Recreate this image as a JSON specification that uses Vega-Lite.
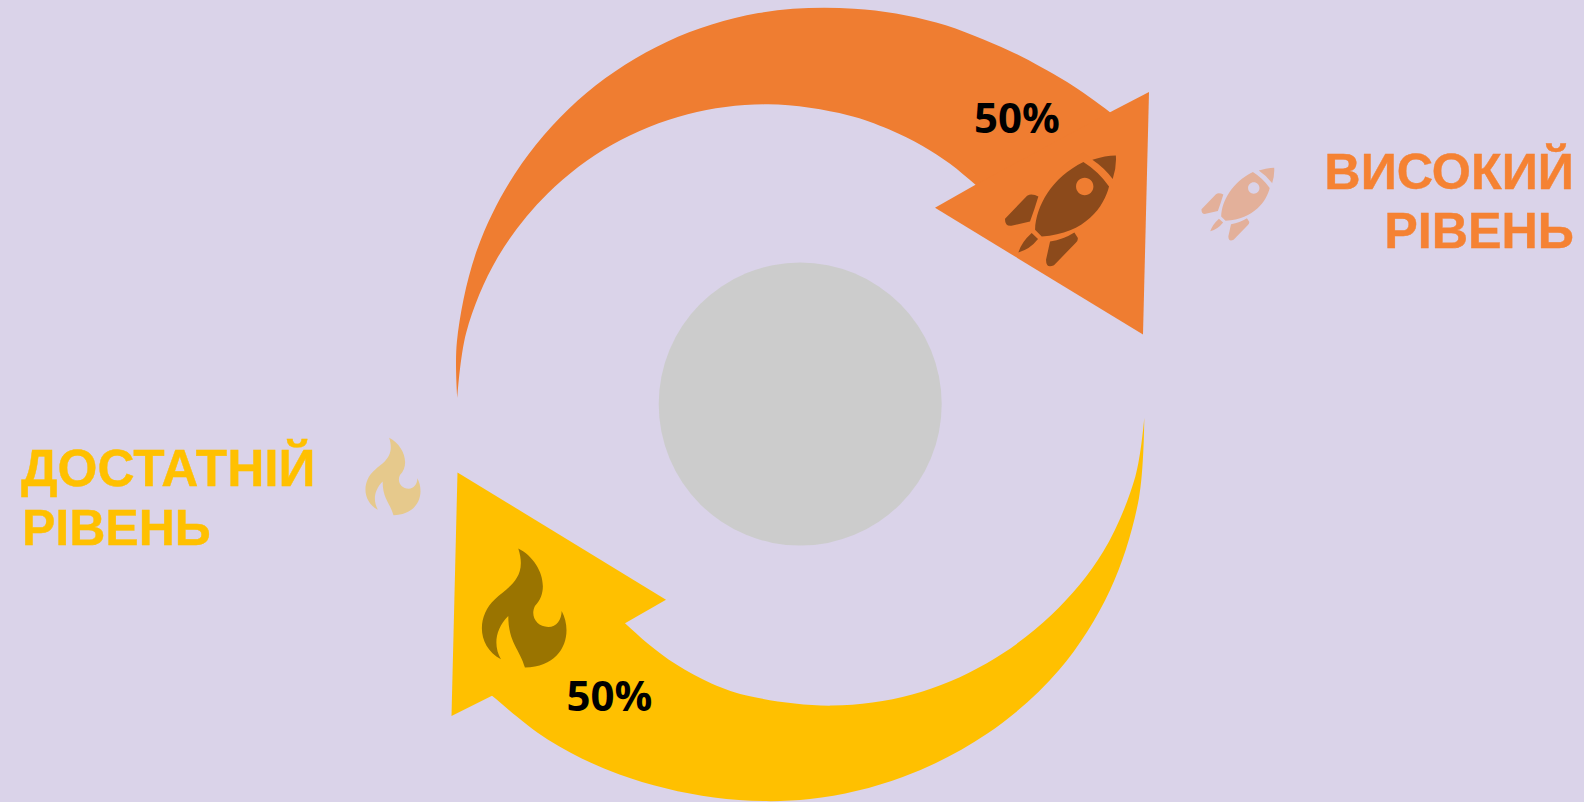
{"$schema":"https://vega.github.io/schema/vega-lite/v6.json","width":1584,"height":802,"autosize":{"type":"fit","contains":"padding"},"padding":0,"background":"#DAD3E9","config":{"view":{"stroke":null}},
"datasets":{"bands":[
{"level":"high","i":1,"x":457.3,"y":398.3},{"level":"high","i":2,"x":456.9,"y":342.1},{"level":"high","i":3,"x":477.6,"y":248.6},{"level":"high","i":4,"x":521.8,"y":163.8},{"level":"high","i":5,"x":586.4,"y":93.2},{"level":"high","i":6,"x":667.1,"y":41.8},{"level":"high","i":7,"x":758.4,"y":13.1},{"level":"high","i":8,"x":854,"y":8.7},{"level":"high","i":9,"x":936.2,"y":22.5},{"level":"high","i":10,"x":1008.8,"y":50.5},{"level":"high","i":11,"x":1040,"y":66.5},{"level":"high","i":12,"x":1067.5,"y":82.4},{"level":"high","i":13,"x":1110,"y":112.3},{"level":"high","i":14,"x":1135,"y":133},{"level":"high","i":15,"x":1070,"y":170},{"level":"high","i":16,"x":1000,"y":205},{"level":"high","i":17,"x":975.5,"y":185},{"level":"high","i":18,"x":949.7,"y":163.8},{"level":"high","i":19,"x":922.6,"y":146.2},{"level":"high","i":20,"x":888.8,"y":129.4},{"level":"high","i":21,"x":848,"y":115.3},{"level":"high","i":22,"x":768,"y":104.5},{"level":"high","i":23,"x":687.7,"y":114.4},{"level":"high","i":24,"x":612.5,"y":144.7},{"level":"high","i":25,"x":547.7,"y":193.7},{"level":"high","i":26,"x":497.6,"y":257.9},{"level":"high","i":27,"x":466.2,"y":333.1},{"level":"high","i":28,"x":457.3,"y":398.3},
{"level":"mid","i":1,"x":1144.3,"y":418.3},{"level":"mid","i":2,"x":1138.9,"y":499.1},{"level":"mid","i":3,"x":1110.2,"y":590.4},{"level":"mid","i":4,"x":1058.8,"y":671.1},{"level":"mid","i":5,"x":987.4,"y":734.5},{"level":"mid","i":6,"x":902.7,"y":778},{"level":"mid","i":7,"x":809.9,"y":800.1},{"level":"mid","i":8,"x":714,"y":798.4},{"level":"mid","i":9,"x":619.5,"y":775.4},{"level":"mid","i":10,"x":548.1,"y":740.6},{"level":"mid","i":11,"x":492,"y":696.7},{"level":"mid","i":12,"x":470,"y":678},{"level":"mid","i":13,"x":530,"y":640},{"level":"mid","i":14,"x":600,"y":602},{"level":"mid","i":15,"x":625,"y":624},{"level":"mid","i":16,"x":648,"y":644.5},{"level":"mid","i":17,"x":676,"y":665.2},{"level":"mid","i":18,"x":712,"y":684.5},{"level":"mid","i":19,"x":751.2,"y":697.4},{"level":"mid","i":20,"x":832,"y":706.5},{"level":"mid","i":21,"x":912.2,"y":695.4},{"level":"mid","i":22,"x":986.8,"y":664},{"level":"mid","i":23,"x":1051.6,"y":615.6},{"level":"mid","i":24,"x":1103.1,"y":552.5},{"level":"mid","i":25,"x":1135.3,"y":477.3},{"level":"mid","i":26,"x":1144.3,"y":418.3}
],"heads":[
{"level":"high","i":1,"x":1110,"y":112.3},{"level":"high","i":2,"x":1149,"y":92},{"level":"high","i":3,"x":1143,"y":335},{"level":"high","i":4,"x":935,"y":208},{"level":"high","i":5,"x":975.5,"y":185},
{"level":"mid","i":1,"x":492,"y":696.7},{"level":"mid","i":2,"x":451.5,"y":717},{"level":"mid","i":3,"x":457.5,"y":473},{"level":"mid","i":4,"x":666,"y":600.5},{"level":"mid","i":5,"x":625,"y":624}
]},
"encoding":{"x":{"field":"x","type":"quantitative","axis":null,"scale":{"domain":[0,1584],"nice":false,"zero":false}},"y":{"field":"y","type":"quantitative","axis":null,"scale":{"domain":[0,802],"nice":false,"zero":false,"reverse":true}}},
"layer":[
{"data":{"values":[{"x":800.2,"y":404.6}]},"mark":{"type":"point","shape":"circle","filled":true,"fill":"#CCCCCC","size":80089,"opacity":1,"strokeWidth":0}},
{"data":{"name":"bands"},"mark":{"type":"line","filled":true,"interpolate":"catmull-rom","strokeWidth":0,"clip":false,"opacity":1},"encoding":{"order":{"field":"i","type":"quantitative"},"color":{"field":"level","type":"nominal","legend":null,"scale":{"domain":["high","mid"],"range":["#EF7D31","#FFC000"]}}}},
{"data":{"name":"heads"},"mark":{"type":"line","filled":true,"strokeWidth":0,"clip":false,"opacity":1},"encoding":{"order":{"field":"i","type":"quantitative"},"color":{"field":"level","type":"nominal","legend":null,"scale":{"domain":["high","mid"],"range":["#EF7D31","#FFC000"]}}}},
{"data":{"values":[{"x":1060.7,"y":211.7}]},"mark":{"type":"point","filled":true,"fill":"#8C4A1B","opacity":1,"strokeWidth":0,"size":12544,"shape":"M.405,-.881 Q.673,-.714 .863,-.446 C.78,-.1 .45,.4 -.339,.446 L-.458,.327 C-.44,-.1 -.161,-.6 .405,-.881 Z M.584,-.446 A.155,.155 0 1 0 .274,-.446 A.155,.155 0 1 0 .584,-.446 Z M.565,-.923 Q.8,-1 .985,-1 Q1,-.8 .929,-.577 Q.78,-.78 .565,-.923 Z M-.56,-.30 Q-.47,-.31 -.399,-.268 Q-.47,-.03 -.548,.179 L-.88,.256 Q-1,.27 -.994,.13 L-.6,-.28 Z M.244,.375 L.304,.47 Q.315,.52 .27,.56 L-.12,.96 Q-.26,1.03 -.262,.863 L-.19,.536 Q.05,.5 .244,.375 Z M-.518,.387 L-.405,.494 Q-.55,.68 -.756,.732 Q-.7,.55 -.518,.387 Z"}},
{"data":{"values":[{"x":1238,"y":204.7}]},"mark":{"type":"point","filled":true,"fill":"#E3B09A","opacity":1,"strokeWidth":0,"size":5400,"shape":"M.405,-.881 Q.673,-.714 .863,-.446 C.78,-.1 .45,.4 -.339,.446 L-.458,.327 C-.44,-.1 -.161,-.6 .405,-.881 Z M.584,-.446 A.155,.155 0 1 0 .274,-.446 A.155,.155 0 1 0 .584,-.446 Z M.565,-.923 Q.8,-1 .985,-1 Q1,-.8 .929,-.577 Q.78,-.78 .565,-.923 Z M-.56,-.30 Q-.47,-.31 -.399,-.268 Q-.47,-.03 -.548,.179 L-.88,.256 Q-1,.27 -.994,.13 L-.6,-.28 Z M.244,.375 L.304,.47 Q.315,.52 .27,.56 L-.12,.96 Q-.26,1.03 -.262,.863 L-.19,.536 Q.05,.5 .244,.375 Z M-.518,.387 L-.405,.494 Q-.55,.68 -.756,.732 Q-.7,.55 -.518,.387 Z"}},
{"data":{"values":[{"x":525.3,"y":608.7}]},"mark":{"type":"point","filled":true,"fill":"#9A7400","opacity":1,"strokeWidth":0,"size":14161,"shape":"M-.118,-.997 C.246,-.818 .443,-.314 .162,-.034 C.078,.134 .19,.319 .387,.319 C.527,.319 .611,.19 .611,.05 C.807,.415 .667,.986 -.006,1.003 C-.09,.695 -.286,.583 -.286,.134 C-.51,.359 -.538,.639 -.409,.863 C-.818,.639 -.818,.134 -.51,-.146 C-.314,-.342 .05,-.482 -.118,-.997 Z"}},
{"data":{"values":[{"x":393.7,"y":477}]},"mark":{"type":"point","filled":true,"fill":"#E6C98C","opacity":1,"strokeWidth":0,"size":5990,"shape":"M-.118,-.997 C.246,-.818 .443,-.314 .162,-.034 C.078,.134 .19,.319 .387,.319 C.527,.319 .611,.19 .611,.05 C.807,.415 .667,.986 -.006,1.003 C-.09,.695 -.286,.583 -.286,.134 C-.51,.359 -.538,.639 -.409,.863 C-.818,.639 -.818,.134 -.51,-.146 C-.314,-.342 .05,-.482 -.118,-.997 Z"}},
{"data":{"values":[{"x":1574,"y":189.3,"label":"ВИСОКИЙ"},{"x":1574,"y":248.3,"label":"РІВЕНЬ"}]},"mark":{"type":"text","align":"right","baseline":"alphabetic","font":"Liberation Sans","fontWeight":"bold","fontSize":50.3,"fill":"#F58233","stroke":"#F58233","strokeWidth":0.4},"encoding":{"text":{"field":"label"}}},
{"data":{"values":[{"x":21,"y":486.7,"label":"ДОСТАТНІЙ"}]},"mark":{"type":"text","align":"left","baseline":"alphabetic","font":"Liberation Sans","fontWeight":"bold","fontSize":51.3,"fill":"#FFC000","stroke":"#FFC000","strokeWidth":0.4},"encoding":{"text":{"field":"label"}}},
{"data":{"values":[{"x":22,"y":545.7,"label":"РІВЕНЬ"}]},"mark":{"type":"text","align":"left","baseline":"alphabetic","font":"Liberation Sans","fontWeight":"bold","fontSize":50,"fill":"#FFC000","stroke":"#FFC000","strokeWidth":0.4},"encoding":{"text":{"field":"label"}}},
{"data":{"values":[{"x":1017,"y":132.7,"label":"50%"},{"x":609.5,"y":711.7,"label":"50%"}]},"mark":{"type":"text","align":"center","baseline":"alphabetic","font":"Open Sans","fontWeight":"bold","fontSize":42,"fill":"#000000"},"encoding":{"text":{"field":"label"}}}
]}
